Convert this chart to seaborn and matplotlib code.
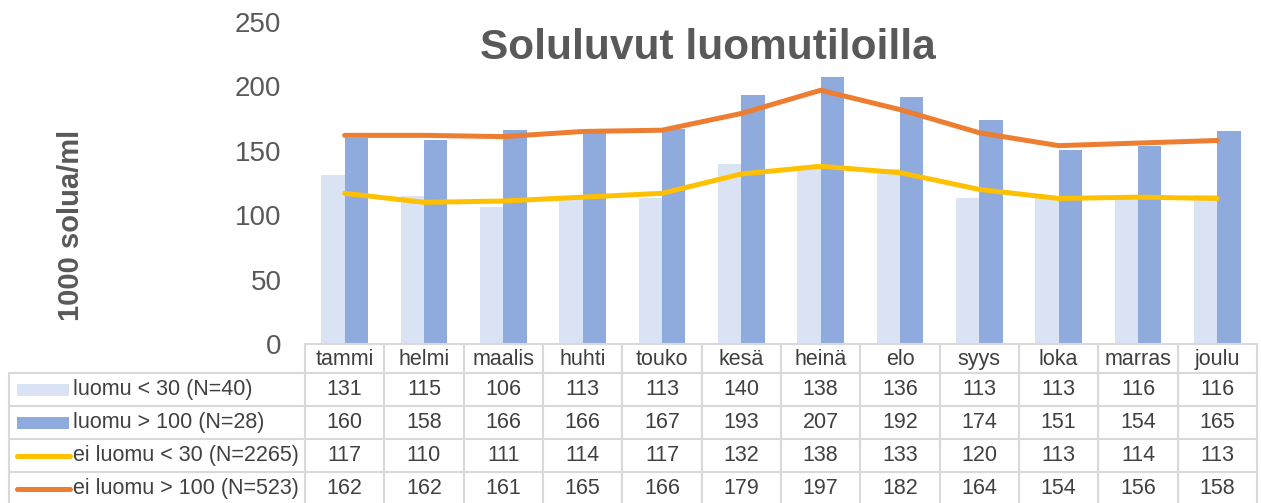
import numpy as np
import pandas as pd
import matplotlib
matplotlib.use("Agg")
import matplotlib.pyplot as plt
import seaborn as sns

months = ["tammi", "helmi", "maalis", "huhti", "touko", "kesä",
          "heinä", "elo", "syys", "loka", "marras", "joulu"]
luomu_alle30 = [131, 115, 106, 113, 113, 140, 138, 136, 113, 113, 116, 116]
luomu_yli100 = [160, 158, 166, 166, 167, 193, 207, 192, 174, 151, 154, 165]
ei_luomu_alle30 = [117, 110, 111, 114, 117, 132, 138, 133, 120, 113, 114, 113]
ei_luomu_yli100 = [162, 162, 161, 165, 166, 179, 197, 182, 164, 154, 156, 158]

series_names = ["luomu < 30 (N=40)", "luomu > 100 (N=28)",
                "ei luomu < 30 (N=2265)", "ei luomu > 100 (N=523)"]
colors = ["#DAE3F3", "#8FAADC", "#FFC000", "#ED7D31"]

sns.set_style("white")
plt.rcParams['font.family'] = ['Liberation Sans', 'DejaVu Sans']

W, H = 1261, 503
fig = plt.figure(figsize=(W / 100, H / 100), dpi=100)

# plot area in pixels
left, right, top, bottom = 305, 1257, 22, 344
ax = fig.add_axes([left / W, 1 - bottom / H, (right - left) / W, (bottom - top) / H])

bars = pd.DataFrame({
    "kk": months * 2,
    "arvo": luomu_alle30 + luomu_yli100,
    "sarja": [series_names[0]] * 12 + [series_names[1]] * 12,
})
sns.barplot(data=bars, x="kk", y="arvo", hue="sarja", order=months,
            palette=colors[:2], saturation=1, width=0.59, ax=ax, legend=False,
            edgecolor="none")

lines = pd.DataFrame({
    "kk": months * 2,
    "arvo": ei_luomu_alle30 + ei_luomu_yli100,
    "sarja": [series_names[2]] * 12 + [series_names[3]] * 12,
})
sns.lineplot(data=lines, x="kk", y="arvo", hue="sarja", palette=colors[2:],
             linewidth=3.6, ax=ax, legend=False, solid_capstyle="round",
             solid_joinstyle="round")

ax.set_xlim(-0.5, 11.5)
ax.set_ylim(0, 250)
ax.set_yticks(range(0, 251, 50))
ax.tick_params(axis="y", labelsize=20, colors="#595959", length=0, pad=17)
ax.set_xticks([])
ax.set_xlabel("")
ax.set_ylabel("")
for s in ["top", "right", "left"]:
    ax.spines[s].set_visible(False)
ax.spines["bottom"].set_color("#D9D9D9")
ax.spines["bottom"].set_linewidth(1.5)

fig.text(708 / W, 1 - 48 / H, "Soluluvut luomutiloilla", ha="center", va="center",
         fontsize=30.5, fontweight="bold", color="#595959")
fig.text(71 / W, 1 - 225 / H, "1000 solua/ml", rotation=90, ha="center", va="center",
         fontsize=21, fontweight="bold", color="#595959")

# data table underneath
tab = fig.add_axes([0, 0, 1, 1], facecolor="none")
tab.set_xlim(0, W)
tab.set_ylim(H, 0)
tab.axis("off")

grid = "#D9D9D9"
colw = (right - left) / 12
row_y = [344, 373, 406, 439, 472, 505]
leg_x = 9
for i in range(13):
    x = left + i * colw
    tab.plot([x, x], [row_y[0], row_y[-1]], color=grid, lw=1.5)
for i, m in enumerate(months):
    tab.text(left + (i + 0.5) * colw, (row_y[0] + row_y[1]) / 2 + 1, m,
             ha="center", va="center", fontsize=15.5, color="#404040")
for y in row_y[1:]:
    tab.plot([leg_x, right], [y, y], color=grid, lw=1.5)
tab.plot([leg_x, leg_x], [row_y[1], row_y[-1]], color=grid, lw=1.5)

all_vals = [luomu_alle30, luomu_yli100, ei_luomu_alle30, ei_luomu_yli100]
for r, (name, vals) in enumerate(zip(series_names, all_vals)):
    yc = (row_y[r + 1] + row_y[r + 2]) / 2
    if r < 2:
        tab.add_patch(plt.Rectangle((17, yc - 6), 52, 12, color=colors[r], lw=0))
    else:
        tab.plot([17, 70], [yc, yc], color=colors[r], lw=3.6, solid_capstyle="round")
    tab.text(73, yc, name, ha="left", va="center", fontsize=15.5, color="#404040")
    for i, v in enumerate(vals):
        tab.text(left + (i + 0.5) * colw, yc, str(v), ha="center", va="center",
                 fontsize=15.5, color="#404040")

fig.savefig("out.png", dpi=100)
